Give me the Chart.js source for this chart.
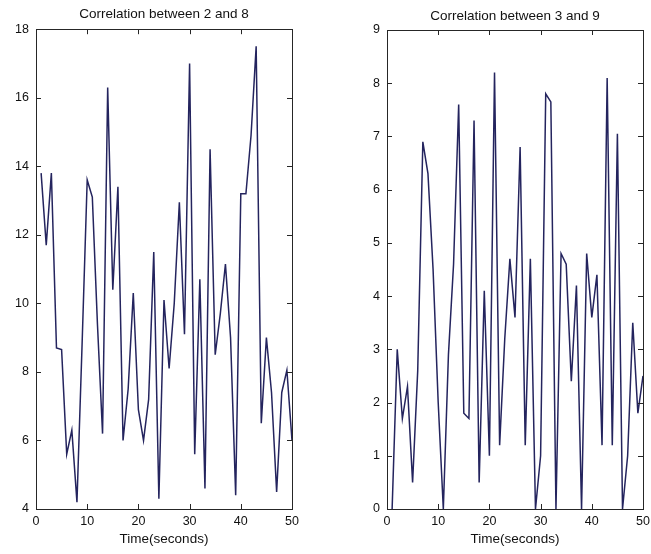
<!DOCTYPE html>
<html>
<head>
<meta charset="utf-8">
<script src="https://cdn.jsdelivr.net/npm/chart.js@4.4.1/dist/chart.umd.min.js"></script>
<style>
html,body{margin:0;padding:0;background:#fff;overflow:hidden;width:651px;height:554px;}
canvas{position:absolute;top:0;}
#c1{left:0;}
#c2{left:351px;}
</style>
</head>
<body>
<canvas id="c1" width="328" height="554" style="width:328px;height:554px"></canvas>
<canvas id="c2" width="328" height="554" style="width:328px;height:554px"></canvas>
<script>
// ---- data ----
const timeSeconds = [1,2,3,4,5,6,7,8,9,10,11,12,13,14,15,16,17,18,19,20,21,22,23,24,25,26,27,28,29,30,31,32,33,34,35,36,37,38,39,40,41,42,43,44,45,46,47,48,49,50];

const corr2and8 = [13.8, 11.7, 13.8, 8.7, 8.65, 5.6, 6.3, 4.2, 8.8, 13.6,
                   13.1, 9.4, 6.2, 16.3, 10.4, 13.4, 6.0, 7.5, 10.3, 6.9,
                   6.0, 7.2, 11.5, 4.3, 10.1, 8.1, 10.0, 12.95, 9.1, 17.0,
                   5.6, 10.7, 4.6, 14.5, 8.5, 9.7, 11.15, 9.0, 4.4, 13.2,
                   13.2, 14.9, 17.5, 6.5, 9.0, 7.4, 4.5, 7.4, 8.05, 6.0];

const corr3and9 = [0, 3.0, 1.7, 2.3, 0.5, 2.6, 6.9, 6.3, 4.5, 2.0,
                   0, 2.9, 4.6, 7.6, 1.8, 1.7, 7.3, 0.5, 4.1, 1.0,
                   8.2, 1.2, 3.2, 4.7, 3.6, 6.8, 1.2, 4.7, 0, 1.0,
                   7.8, 7.65, 0, 4.8, 4.6, 2.4, 4.2, 0, 4.8, 3.6,
                   4.4, 1.2, 8.1, 1.2, 7.05, 0, 1.0, 3.5, 1.8, 2.5];

const titles = ["Correlation between 2 and 8", "Correlation between 3 and 9"];
const xAxisLabel = "Time(seconds)";
const xTicks = {min: 0, max: 50, step: 10};
const yTicksLeft = {min: 4, max: 18, step: 2};
const yTicksRight = {min: 0, max: 9, step: 1};

// ---- rendering ----
const FONT = "'Liberation Sans', Arial, Helvetica, sans-serif";
const INK = '#111';

const framePlugin = {
  id: 'frame',
  afterDatasetsDraw(chart) {
    const {ctx, chartArea: a, scales} = chart;
    const x = scales.x, y = scales.y;
    const L = 5;
    ctx.save();
    ctx.strokeStyle = '#262626';
    ctx.lineWidth = 1;
    ctx.beginPath();
    x.ticks.forEach(t => {
      const px = Math.round(x.getPixelForValue(t.value)) + 0.5;
      ctx.moveTo(px, a.bottom); ctx.lineTo(px, a.bottom - L);
      ctx.moveTo(px, a.top); ctx.lineTo(px, a.top + L);
    });
    y.ticks.forEach(t => {
      const py = Math.round(y.getPixelForValue(t.value)) + 0.5;
      ctx.moveTo(a.left, py); ctx.lineTo(a.left + L, py);
      ctx.moveTo(a.right, py); ctx.lineTo(a.right - L, py);
    });
    ctx.stroke();
    ctx.strokeRect(Math.round(a.left) + 0.5, Math.round(a.top) + 0.5,
                   Math.round(a.right - a.left), Math.round(a.bottom - a.top));
    ctx.restore();
  }
};

function makeChart(id, title, values, yt, titlePad) {
  const pts = timeSeconds.map((t, i) => ({x: t, y: values[i]}));
  return new Chart(document.getElementById(id), {
    type: 'line',
    data: {datasets: [{
      data: pts,
      borderColor: '#24245e',
      borderWidth: 1.5,
      pointRadius: 0,
      tension: 0,
      fill: false
    }]},
    plugins: [framePlugin],
    options: {
      responsive: false,
      animation: false,
      layout: {padding: 0},
      plugins: {
        legend: {display: false},
        tooltip: {enabled: false},
        title: {
          display: true,
          text: title,
          color: INK,
          font: {family: FONT, size: 13.5, weight: 'normal', lineHeight: 1.2},
          padding: titlePad
        }
      },
      scales: {
        x: {
          type: 'linear',
          position: 'bottom',
          min: xTicks.min, max: xTicks.max,
          ticks: {stepSize: xTicks.step, color: INK, padding: 5.5, maxRotation: 0,
                  font: {family: FONT, size: 12.5}},
          grid: {display: false, drawTicks: false},
          border: {display: false},
          title: {display: true, text: xAxisLabel, color: INK,
                  font: {family: FONT, size: 13.5}, padding: {top: 0, bottom: 7}},
          afterFit(s) { s.height = 45; }
        },
        y: {
          type: 'linear',
          position: 'left',
          min: yt.min, max: yt.max,
          ticks: {stepSize: yt.step, color: INK, padding: 7,
                  font: {family: FONT, size: 12.5}},
          grid: {display: false, drawTicks: false},
          border: {display: false},
          afterFit(s) { s.width = 36; }
        },
        yPad: {
          type: 'linear',
          position: 'right',
          min: yt.min, max: yt.max,
          ticks: {display: false},
          grid: {display: false, drawTicks: false},
          border: {display: false},
          afterFit(s) { s.width = 36; }
        }
      }
    }
  });
}

makeChart('c1', titles[0], corr2and8, yTicksLeft, {top: 6, bottom: 7});
makeChart('c2', titles[1], corr3and9, yTicksRight, {top: 8, bottom: 5.8});
</script>
</body>
</html>
